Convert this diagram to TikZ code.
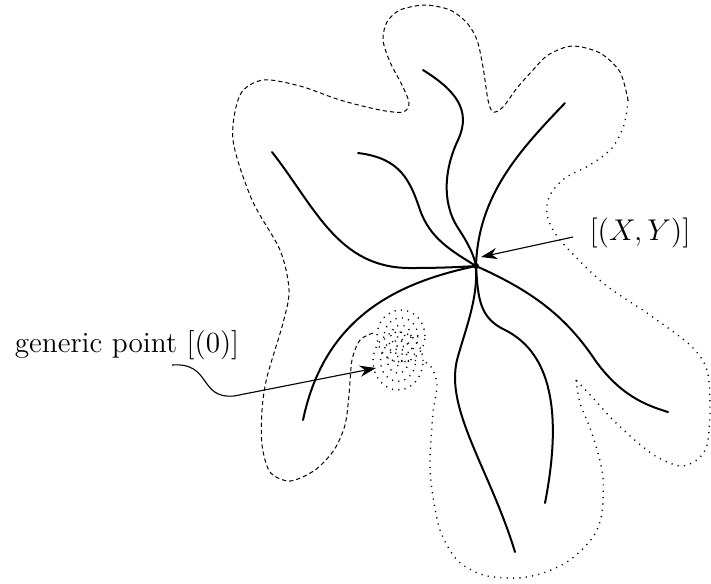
\documentclass[tikz,border=0pt]{standalone}
\usetikzlibrary{arrows.meta}
\begin{document}
\begin{tikzpicture}[x=0.4pt,y=-0.4pt,
  branch/.style={line width=0.8pt, line cap=round},
  outdash/.style={line width=0.4pt, dash pattern=on 1.7pt off 1.2pt},
  outdot/.style={line width=0.55pt, dash pattern=on 0.45pt off 2.1pt},
  pointer/.style={line width=0.45pt, -{Stealth[length=6.5pt,width=4.5pt]}},
  lbl/.style={font=\fontsize{11.7}{14}\selectfont, inner sep=0pt}]
\useasboundingbox (0,0) rectangle (711,583);

% central point
\node[circle, fill, inner sep=0pt, minimum size=2.4pt] (P) at (476,266) {};

% branches
\draw[branch] (272,152) .. controls (315,207) and (338,268) .. (410,268) .. controls (440,268) and (460,267) .. (P.center);
\draw[branch] (358,153) .. controls (400,158) and (410,180) .. (420,210) .. controls (430,238) and (450,250) .. (P.center);
\draw[branch] (423,70) .. controls (455,90) and (472,110) .. (458,140) .. controls (446,165) and (440,200) .. (458,228) .. controls (468,243) and (474,255) .. (P.center);
\draw[branch] (565,103) .. controls (520,150) and (478,195) .. (P.center);
\draw[branch] (P.center) .. controls (400,282) and (325,315) .. (303,420);
\draw[branch] (P.center) .. controls (478,300) and (465,330) .. (457,360) .. controls (445,410) and (490,470) .. (515,552);
\draw[branch] (P.center) .. controls (478,300) and (480,318) .. (505,330) .. controls (545,350) and (565,400) .. (545,503);
\draw[branch] (P.center) .. controls (530,290) and (565,315) .. (595,360) .. controls (620,395) and (645,405) .. (668,412);

% outline, dashed part
\draw[outdash] plot[smooth] coordinates {(373,333) (360,340) (352,360) (349,395) (345,425) (334,450) (315,470) (290,481) (270,472) (262,445) (262,410) (267,377) (283,323) (289,290) (280,250) (252,200) (233,140) (240,95) (263,80) (300,86) (340,100) (380,110) (403,112) (409,103) (402,85) (390,62) (383,40) (387,22) (400,10) (425,5) (450,10) (467,23) (477,40) (483,67) (488,100) (493,112) (503,107) (517,88) (533,70) (548,55) (572,46) (600,53) (620,72) (628,100)};

% outline, dotted part
\draw[outdot] plot[smooth] coordinates {(628,100) (624,125) (612,148) (590,165) (565,178) (550,195) (547,215) (560,240) (603,283) (647,313) (690,345) (707,370) (710,410) (707,445) (697,460) (680,466) (657,457) (637,442) (613,420) (593,398) (576,380)};
\draw[outdot] plot[smooth] coordinates {(576,380) (580,403) (590,428) (598,453) (603,478) (602,513) (593,537) (570,560) (543,573) (517,578) (483,575) (457,560) (440,530) (432,490) (430,460) (433,413) (437,385) (432,368) (425,362)};

% generic point blob
\foreach \s in {1,0.7,0.42,0.16}{
  \draw[outdot] (401,336) ellipse [x radius=\s*9.6pt, y radius=\s*10.4pt];
  \draw[outdot] (398,361) ellipse [x radius=\s*10pt, y radius=\s*11.6pt];
}

% labels
\node[lbl] (xy) at (640,233) {$[(X,Y)]$};
\coordinate (xyfrom) at (573,237);
\coordinate (xytip) at (481,257);
\draw[pointer] (xyfrom) -- (xytip);

\node[lbl] (gp) at (127,345) {generic point [(0)]};
\coordinate (gs) at (172,365);
\coordinate (gt) at (376,368);
\draw[pointer] (gs) .. controls (212,362) and (198,399) .. (234,396) -- (gt);
\end{tikzpicture}
\end{document}
